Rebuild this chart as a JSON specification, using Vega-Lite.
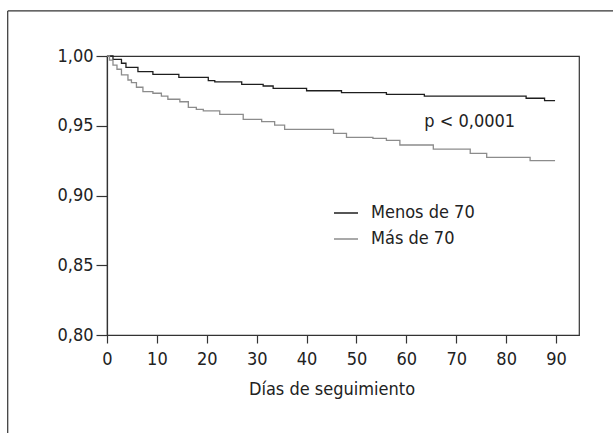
{
  "$schema": "https://vega.github.io/schema/vega-lite/v6.json",
  "usermeta": {"embedOptions": {"actions": false}},
  "autosize": "none",
  "width": 472,
  "height": 279,
  "padding": {"left": 107, "top": 56, "right": 34, "bottom": 98},
  "background": "white",
  "config": {
    "font": "Liberation Sans Narrow, DejaVu Sans Condensed, sans-serif",
    "view": {"stroke": "#333", "strokeWidth": 1.2},
    "axis": {"domainColor": "#333", "tickColor": "#333", "labelColor": "#222", "titleColor": "#222", "grid": false, "labelFont": "Liberation Sans Narrow, DejaVu Sans Condensed, sans-serif", "titleFont": "Liberation Sans Narrow, DejaVu Sans Condensed, sans-serif", "titleFontWeight": "normal", "labelFontSize": 18, "titleFontSize": 18, "domainWidth": 1.2, "tickWidth": 1.2}
  },
  "datasets": {
    "curves": [
      {"dia": 0, "surv": 1.0, "grupo": "Menos de 70"},
      {"dia": 1.2, "surv": 0.9976, "grupo": "Menos de 70"},
      {"dia": 2.9, "surv": 0.9948, "grupo": "Menos de 70"},
      {"dia": 3.8, "surv": 0.9919, "grupo": "Menos de 70"},
      {"dia": 6.2, "surv": 0.9888, "grupo": "Menos de 70"},
      {"dia": 9.2, "surv": 0.9869, "grupo": "Menos de 70"},
      {"dia": 14.4, "surv": 0.9847, "grupo": "Menos de 70"},
      {"dia": 20.3, "surv": 0.9823, "grupo": "Menos de 70"},
      {"dia": 21.6, "surv": 0.9814, "grupo": "Menos de 70"},
      {"dia": 27, "surv": 0.9797, "grupo": "Menos de 70"},
      {"dia": 31.3, "surv": 0.9785, "grupo": "Menos de 70"},
      {"dia": 33.3, "surv": 0.9768, "grupo": "Menos de 70"},
      {"dia": 40, "surv": 0.9751, "grupo": "Menos de 70"},
      {"dia": 47, "surv": 0.9737, "grupo": "Menos de 70"},
      {"dia": 56, "surv": 0.9725, "grupo": "Menos de 70"},
      {"dia": 63.6, "surv": 0.9713, "grupo": "Menos de 70"},
      {"dia": 84, "surv": 0.9697, "grupo": "Menos de 70"},
      {"dia": 87.7, "surv": 0.968, "grupo": "Menos de 70"},
      {"dia": 89.8, "surv": 0.968, "grupo": "Menos de 70"},
      {"dia": 0, "surv": 1.0, "grupo": "Más de 70"},
      {"dia": 0.5, "surv": 0.9971, "grupo": "Más de 70"},
      {"dia": 1.2, "surv": 0.9935, "grupo": "Más de 70"},
      {"dia": 2.0, "surv": 0.9905, "grupo": "Más de 70"},
      {"dia": 2.9, "surv": 0.9864, "grupo": "Más de 70"},
      {"dia": 4.2, "surv": 0.9828, "grupo": "Más de 70"},
      {"dia": 4.9, "surv": 0.9809, "grupo": "Más de 70"},
      {"dia": 5.9, "surv": 0.9776, "grupo": "Más de 70"},
      {"dia": 7.2, "surv": 0.9744, "grupo": "Más de 70"},
      {"dia": 9.2, "surv": 0.9733, "grupo": "Más de 70"},
      {"dia": 10.9, "surv": 0.9713, "grupo": "Más de 70"},
      {"dia": 12.2, "surv": 0.969, "grupo": "Más de 70"},
      {"dia": 14.6, "surv": 0.9672, "grupo": "Más de 70"},
      {"dia": 16.3, "surv": 0.9632, "grupo": "Más de 70"},
      {"dia": 17.9, "surv": 0.9618, "grupo": "Más de 70"},
      {"dia": 19.3, "surv": 0.9606, "grupo": "Más de 70"},
      {"dia": 22.6, "surv": 0.9582, "grupo": "Más de 70"},
      {"dia": 27.3, "surv": 0.9546, "grupo": "Más de 70"},
      {"dia": 31, "surv": 0.9529, "grupo": "Más de 70"},
      {"dia": 33.6, "surv": 0.9505, "grupo": "Más de 70"},
      {"dia": 35.6, "surv": 0.9474, "grupo": "Más de 70"},
      {"dia": 45.4, "surv": 0.9446, "grupo": "Más de 70"},
      {"dia": 48, "surv": 0.9417, "grupo": "Más de 70"},
      {"dia": 53.3, "surv": 0.941, "grupo": "Más de 70"},
      {"dia": 56, "surv": 0.9395, "grupo": "Más de 70"},
      {"dia": 58.7, "surv": 0.9362, "grupo": "Más de 70"},
      {"dia": 65.4, "surv": 0.9333, "grupo": "Más de 70"},
      {"dia": 72.8, "surv": 0.9302, "grupo": "Más de 70"},
      {"dia": 76.1, "surv": 0.9274, "grupo": "Más de 70"},
      {"dia": 84.8, "surv": 0.925, "grupo": "Más de 70"},
      {"dia": 89.8, "surv": 0.925, "grupo": "Más de 70"}
    ],
    "frame": [{"x1": -19.9, "x2": 130, "y1": 1.0323, "y2": 0.6}],
    "note": [{"dia": 72.7, "surv": 0.9527, "label": "p < 0,0001"}]
  },
  "layer": [
    {
      "data": {"name": "frame"},
      "mark": {"type": "rule", "stroke": "#333", "strokeWidth": 1.2, "clip": false},
      "encoding": {
        "x": {"field": "x1", "type": "quantitative", "scale": {"domain": [0, 94.6], "nice": false, "zero": false}},
        "x2": {"field": "x2"},
        "y": {"field": "y1", "type": "quantitative", "scale": {"domain": [0.8, 1.0], "nice": false, "zero": false}}
      }
    },
    {
      "data": {"name": "frame"},
      "mark": {"type": "rule", "stroke": "#333", "strokeWidth": 1.2, "clip": false},
      "encoding": {
        "x": {"field": "x1", "type": "quantitative"},
        "y": {"field": "y1", "type": "quantitative"},
        "y2": {"field": "y2"}
      }
    },
    {
      "data": {"name": "curves"},
      "mark": {"type": "line", "interpolate": "step-after", "strokeWidth": 1.3},
      "encoding": {
        "x": {"field": "dia", "type": "quantitative", "scale": {"domain": [0, 94.6], "nice": false, "zero": false},
              "axis": {"values": [0, 10, 20, 30, 40, 50, 60, 70, 80, 90], "tickSize": 8, "labelPadding": 7, "title": "Días de seguimiento", "titlePadding": 12, "titleAnchor": "start", "titleX": 224.5, "titleAlign": "center", "labelFlush": false}},
        "y": {"field": "surv", "type": "quantitative", "scale": {"domain": [0.8, 1.0], "nice": false, "zero": false},
              "axis": {"values": [0.8, 0.85, 0.9, 0.95, 1.0], "format": ".2f", "labelExpr": "replace(datum.label, '.', ',')", "tickSize": 11, "labelPadding": 3, "title": null, "labelFlush": false}},
        "color": {"field": "grupo", "type": "nominal",
                  "scale": {"domain": ["Menos de 70", "Más de 70"], "range": ["#1e1e1e", "#8c8c8c"]},
                  "legend": {"title": null, "orient": "none", "legendX": 226, "legendY": 144, "symbolType": "stroke", "symbolSize": 576, "symbolStrokeWidth": 1.5, "labelFontSize": 18, "labelColor": "#222", "labelOffset": 12, "rowPadding": 4, "labelFont": "Liberation Sans Narrow, DejaVu Sans Condensed, sans-serif"}}
      }
    },
    {
      "data": {"name": "note"},
      "mark": {"type": "text", "fontSize": 18, "color": "#222", "align": "center", "baseline": "middle", "font": "Liberation Sans Narrow, DejaVu Sans Condensed, sans-serif"},
      "encoding": {
        "x": {"field": "dia", "type": "quantitative"},
        "y": {"field": "surv", "type": "quantitative"},
        "text": {"field": "label"}
      }
    }
  ]
}
